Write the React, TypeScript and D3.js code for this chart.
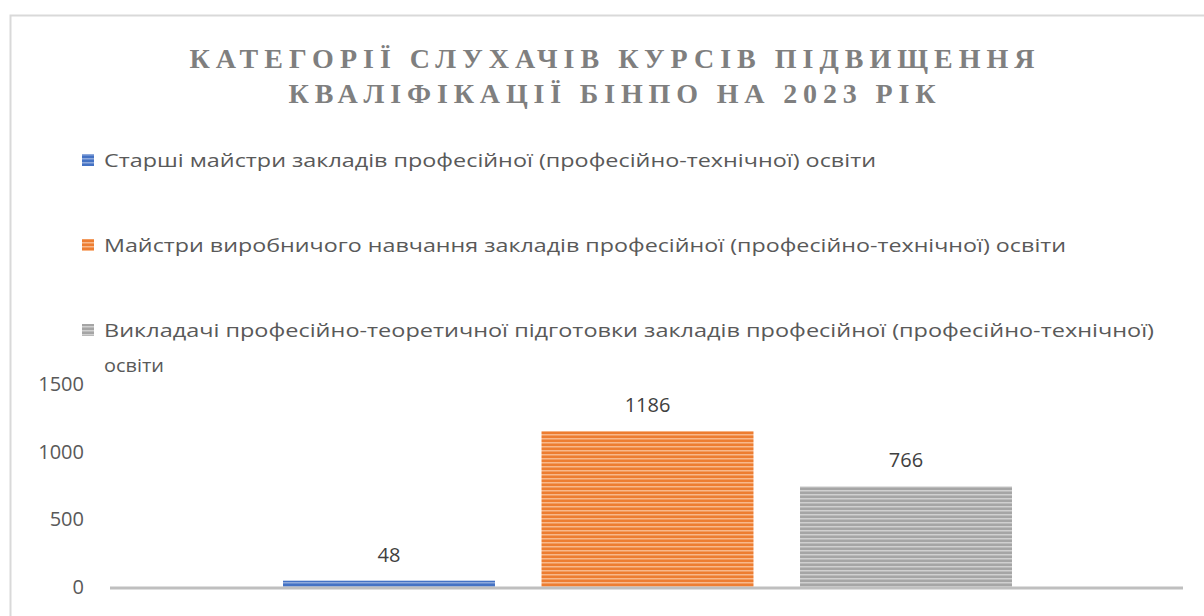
import React, { useEffect, useRef } from "react";
import * as d3 from "d3";

const titleLines = [
  "КАТЕГОРІЇ СЛУХАЧІВ КУРСІВ ПІДВИЩЕННЯ",
  "КВАЛІФІКАЦІЇ БІНПО НА 2023 РІК",
];
const seriesNames = [
  "Старші майстри закладів професійної (професійно-технічної) освіти",
  "Майстри виробничого навчання закладів професійної (професійно-технічної) освіти",
  "Викладачі професійно-теоретичної підготовки закладів професійної (професійно-технічної) освіти",
];
const values = [48, 1186, 766];
const yTicks = [0, 500, 1000, 1500];
const colors = ["#4472C4", "#ED7D31", "#A5A5A5"];
const lightColors = ["#8FAADC", "#F8B88B", "#D0D0D0"];

export default function App() {
  const ref = useRef<SVGSVGElement>(null);

  useEffect(() => {
    const svg = d3.select(ref.current);
    svg.selectAll("*").remove();
    const W = 1204, H = 616;
    svg.attr("width", W).attr("height", H);

    // stripe patterns
    const defs = svg.append("defs");
    colors.forEach((c, i) => {
      const p = defs
        .append("pattern")
        .attr("id", "stripe" + i)
        .attr("patternUnits", "userSpaceOnUse")
        .attr("width", 8)
        .attr("height", 4);
      p.append("rect").attr("width", 8).attr("height", 4).attr("fill", c);
      p.append("rect").attr("y", 2).attr("width", 8).attr("height", 1.5).attr("fill", lightColors[i]);
    });

    // chart border
    svg
      .append("rect")
      .attr("x", 10.5)
      .attr("y", 15.5)
      .attr("width", 1260)
      .attr("height", 700)
      .attr("fill", "white")
      .attr("stroke", "#d9d9d9")
      .attr("stroke-width", 2);

    // title
    const titleW = [845, 647];
    titleLines.forEach((t, i) => {
      svg
        .append("text")
        .attr("x", 612)
        .attr("y", 68 + i * 35)
        .attr("text-anchor", "middle")
        .attr("font-family", "Liberation Serif, serif")
        .attr("font-weight", "bold")
        .attr("font-size", 28)
        .attr("fill", "#7f7f7f")
        .attr("textLength", titleW[i])
        .attr("lengthAdjust", "spacing")
        .text(t);
    });

    // legend
    const legendY = [160, 245, 330];
    const legendW = [772, 962, 1050];
    const lf = "Open Sans, sans-serif";
    seriesNames.forEach((name, i) => {
      svg
        .append("rect")
        .attr("x", 82)
        .attr("y", legendY[i] - 6)
        .attr("width", 12)
        .attr("height", 12)
        .attr("fill", "url(#stripe" + i + ")");
      let label = name;
      let rest = "";
      if (i === 2) {
        label = name.replace(/ освіти$/, "");
        rest = "освіти";
      }
      svg
        .append("text")
        .attr("x", 104)
        .attr("y", legendY[i] + 7)
        .attr("font-family", lf)
        .attr("font-size", 19)
        .attr("fill", "#595959")
        .attr("textLength", legendW[i])
        .attr("lengthAdjust", "spacingAndGlyphs")
        .text(label);
      if (rest) {
        svg
          .append("text")
          .attr("x", 104)
          .attr("y", legendY[i] + 42)
          .attr("font-family", lf)
          .attr("font-size", 19)
          .attr("fill", "#595959")
          .attr("textLength", 60)
          .attr("lengthAdjust", "spacingAndGlyphs")
          .text(rest);
      }
    });

    // scales
    const y = d3.scaleLinear().domain([0, 1500]).range([587, 390]);
    const x0 = d3.scaleBand().domain(["2023"]).range([112, 1183]).paddingInner(0).paddingOuter(0.2346);
    const x1 = d3
      .scaleBand()
      .domain(seriesNames)
      .range([x0("2023")!, x0("2023")! + x0.bandwidth()])
      .paddingInner(0.18)
      .paddingOuter(0);

    // y tick labels
    svg
      .append("g")
      .selectAll("text")
      .data(yTicks)
      .join("text")
      .attr("x", 84)
      .attr("y", (d) => y(d) + 7 - d * 0.004)
      .attr("text-anchor", "end")
      .attr("font-family", lf)
      .attr("font-size", 20)
      .attr("fill", "#595959")
      .text((d) => d);

    // bars
    svg
      .append("g")
      .selectAll("rect")
      .data(values)
      .join("rect")
      .attr("x", (d, i) => x1(seriesNames[i])!)
      .attr("y", (d) => y(d))
      .attr("width", x1.bandwidth())
      .attr("height", (d) => y(0) - y(d))
      .attr("fill", (d, i) => "url(#stripe" + i + ")");

    // data labels
    svg
      .append("g")
      .selectAll("text")
      .data(values)
      .join("text")
      .attr("x", (d, i) => x1(seriesNames[i])! + x1.bandwidth() / 2)
      .attr("y", (d) => y(d) - 19)
      .attr("text-anchor", "middle")
      .attr("font-family", lf)
      .attr("font-size", 20)
      .attr("fill", "#404040")
      .text((d) => d);

    // baseline
    svg
      .append("line")
      .attr("x1", 110)
      .attr("x2", 1183)
      .attr("y1", y(0) + 1)
      .attr("y2", y(0) + 1)
      .attr("stroke", "#bfbfbf")
      .attr("stroke-width", 3);
  }, []);

  return (
    <div style={{ position: "fixed", left: 0, top: 0, background: "white" }}>
      <svg ref={ref}></svg>
    </div>
  );
}
